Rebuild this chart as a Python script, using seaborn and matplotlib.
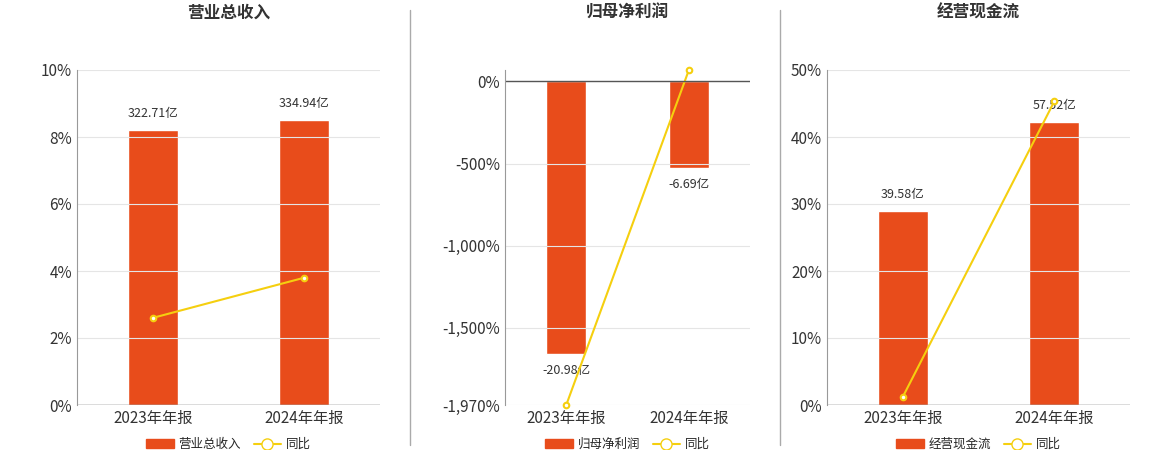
import matplotlib
matplotlib.use("Agg")
import matplotlib.pyplot as plt
import matplotlib.ticker as mticker
import seaborn as sns
import pandas as pd
from matplotlib.lines import Line2D
from matplotlib.patches import Patch

sns.set_style("white")
plt.rcParams['font.family'] = ['Noto Sans CJK SC', 'DejaVu Sans']

years = ["2023年年报", "2024年年报"]
titles = ["营业总收入", "归母净利润", "经营现金流"]
bar_vals = [[322.71, 334.94], [-20.98, -6.69], [39.58, 57.52]]
bar_labels = [["322.71亿", "334.94亿"], ["-20.98亿", "-6.69亿"], ["39.58亿", "57.52亿"]]
yoy = [[2.6, 3.8], [-1970, 68], [1.2, 45.3]]
pct_lims = [(0, 10), (-1970, 70), (0, 50)]
pct_ticks = [[0, 2, 4, 6, 8, 10], [-1970, -1500, -1000, -500, 0], [0, 10, 20, 30, 40, 50]]
bar_lims = [(0, 393.5), (-24.9, 0.88), (0, 68.2)]

BAR = "#e84c1b"
LINE = "#f5cf0f"
W, H = 1160, 450
fig = plt.figure(figsize=(W / 100, H / 100), dpi=100)
boxes = [(77, 380), (505, 750), (827, 1130)]

for i in range(3):
    x0, x1 = boxes[i]
    ax = fig.add_axes([x0 / W, 1 - 405 / H, (x1 - x0) / W, (405 - 70) / H])
    ax2 = ax.twinx()
    df = pd.DataFrame({"year": years, "val": bar_vals[i], "yoy": yoy[i]})
    sns.barplot(data=df, x="year", y="val", color=BAR, width=0.33, ax=ax2, saturation=1)
    ax2.set_ylim(*bar_lims[i])
    ax2.axis("off")
    for j, v in enumerate(bar_vals[i]):
        off = 3 if v > 0 else -3
        ax2.text(j, v + (bar_lims[i][1] - bar_lims[i][0]) * off / 100, bar_labels[i][j],
                 ha="center", va="bottom" if v > 0 else "top", fontsize=9, color="#333333")
    ax.set_zorder(ax2.get_zorder() + 1)
    ax.patch.set_visible(False)
    ax.plot([0, 1], yoy[i], color=LINE, lw=1.5, marker="o", ms=4,
            mfc="white", mec=LINE, mew=1.5, clip_on=False)
    ax.set_xlim(-0.5, 1.5)
    ax2.set_xlim(-0.5, 1.5)
    ax.set_ylim(*pct_lims[i])
    ax.set_yticks(pct_ticks[i])
    ax.yaxis.set_major_formatter(mticker.FuncFormatter(lambda v, p: f"{v:,.0f}%"))
    ax.set_xticks([0, 1])
    ax.set_xticklabels(years, fontsize=11, color="#333333")
    ax.tick_params(axis="y", labelsize=11, colors="#333333", length=0)
    ax.tick_params(axis="x", length=0)
    ax.grid(axis="y", color="#e5e5e5", lw=0.8)
    for s in ["top", "right"]:
        ax.spines[s].set_visible(False)
    ax.spines["left"].set_color("#999999")
    ax.spines["bottom"].set_visible(False)
    ax.axhline(0, color="#555555", lw=1)
    ax.set_title(titles[i], fontsize=12, fontweight="bold", color="#333333", pad=38)
    handles = [Patch(color=BAR), Line2D([], [], color=LINE, marker="o", mfc="white", mec=LINE, ms=8)]
    ax.legend(handles, [titles[i], "同比"], loc="upper center", bbox_to_anchor=(0.5, -0.065),
              ncol=2, frameon=False, fontsize=9, handlelength=2.2, columnspacing=1, handletextpad=0.4)

for xs in [410, 780]:
    fig.add_artist(Line2D([xs / W, xs / W], [1 - 445 / H, 1 - 10 / H], color="#aaaaaa", lw=1))

fig.savefig("out.png", dpi=100)
